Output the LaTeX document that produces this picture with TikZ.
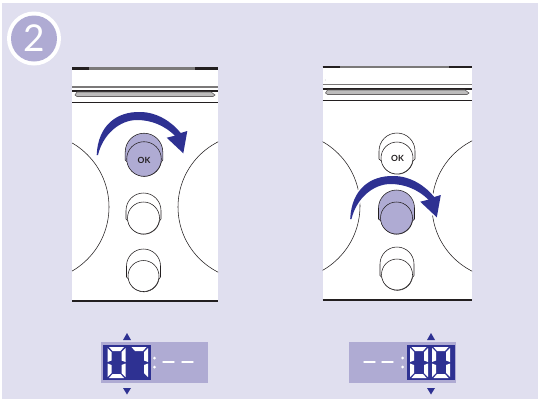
\documentclass[tikz,border=0pt]{standalone}
\usepackage{fontspec}
\setmainfont{Lato}
\definecolor{bg}{HTML}{E0DFEF}
\definecolor{lilac}{HTML}{AFABD3}
\definecolor{navy}{HTML}{2E3192}
\definecolor{ink}{HTML}{231F20}
\tikzset{
  thin line/.style={draw=ink,line width=0.55pt},
  bar line/.style={draw=ink,line width=1.1pt},
  gray line/.style={draw=ink!60,line width=1.2pt},
  top band/.style={draw=ink!60,line width=2.2pt},
  seg/.style={fill=white,draw=none},
  marker/.style={fill=navy,draw=none},
  turn/.style={fill=navy,draw=none},
  halo/.style={draw=white,fill=white,line width=3pt,line join=round},
}
% y axis points down, so angle 270 is the top of a circle
\newcommand{\knob}[7]{% cx, top (unused), halfw, circ y, r, shoulder y, fill
  \path[thin line,fill=#7] (#1-#3,#6) arc[start angle=180,end angle=360,radius=#3] -- (#1+#3,#4+1) -- (#1+#5,#4+3) arc[start angle=10,end angle=170,radius=#5] -- (#1-#3,#4+1) -- cycle;
  \path[thin line,fill=#7] (#1,#4) circle[radius=#5];
}
\newcommand{\panel}[7]{% left, right, top, line1, line2, line3, bottom
  \fill[white] (#1,#3) rectangle (#2,#7);
  \draw[top band] (#1,#3) -- (#2,#3);
  \draw[line width=2.2pt,ink] (#1,#3) -- (#1+17,#3);
  \draw[line width=2.2pt,ink] (#2-23,#3) -- (#2,#3);
  \draw[gray line] (#1,#4) -- (#2,#4);
  \draw[bar line] (#1,#5) -- (#2,#5);
  \draw[bar line] (#1,#6) -- (#2,#6);
  \draw[draw=ink!70,line width=0.6pt,fill=ink!30] (#1+3,#5+4) -- (#1+5,#5+1) -- (#2-7,#5+1) -- (#2-3,#5+4) -- (#2-5,#5+5.5) -- (#1+5,#5+5.5) -- cycle;
  \draw[line width=1.6pt,ink] (#1,#7) -- (#2,#7);
}
\newcommand{\turnshape}[1]{%
  (96.7,155) .. controls (98,125) and (117,111.5) .. (140,112)
  .. controls (157,112) and (172,122) .. (180.7,133)
  -- (187.3,131) -- (183.3,153.3) -- (166.7,137.7) -- (175,135.7)
  .. controls (165,126) and (152,120) .. (137,120)
  .. controls (120,120) and (103,134) .. (98,155) -- cycle
}
% seven-segment digit at (x,y), 18 wide, 31 high
\newcommand{\sega}[2]{\fill[seg] (#1+1.5,#2) -- (#1+16.5,#2) -- (#1+13,#2+4) -- (#1+5,#2+4) -- cycle;}
\newcommand{\segd}[2]{\fill[seg] (#1+1.5,#2+31) -- (#1+16.5,#2+31) -- (#1+13,#2+27) -- (#1+5,#2+27) -- cycle;}
\newcommand{\segf}[2]{\fill[seg] (#1+0,#2+1) -- (#1+4,#2+5) -- (#1+4,#2+13.5) -- (#1+0,#2+15) -- cycle;}
\newcommand{\sege}[2]{\fill[seg] (#1+0,#2+16.5) -- (#1+4,#2+18) -- (#1+4,#2+26) -- (#1+0,#2+30) -- cycle;}
\newcommand{\segb}[2]{\fill[seg] (#1+18,#2+1) -- (#1+14,#2+5) -- (#1+14,#2+13.5) -- (#1+18,#2+15) -- cycle;}
\newcommand{\segc}[2]{\fill[seg] (#1+18,#2+16.5) -- (#1+14,#2+18) -- (#1+14,#2+26) -- (#1+18,#2+30) -- cycle;}
\newcommand{\dzero}[2]{\sega{#1}{#2}\segd{#1}{#2}\segf{#1}{#2}\sege{#1}{#2}\segb{#1}{#2}\segc{#1}{#2}}
\newcommand{\dseven}[2]{\sega{#1}{#2}\segb{#1}{#2}\segc{#1}{#2}}
\newcommand{\dashseg}[2]{\draw[white,line width=2.8pt,line cap=round] (#1+1.4,#2) -- (#1+11.6,#2);}
\begin{document}
\begin{tikzpicture}[x=1pt,y=-1pt]
\useasboundingbox (0,0) rectangle (540,399);
\fill[white] (0,0) rectangle (540,399);
\fill[bg] (2,3) rectangle (538,399);
% badge
\fill[white] (34,38.5) circle[radius=27];
\fill[lilac] (34,38.5) circle[radius=23];
\node (badge) at (34,38.5) {\fontsize{37}{37}\selectfont\color{white}2};
% left panel
\panel{72}{218}{68.5}{87}{91}{102.5}{301}
\begin{scope}
\clip (72,110) rectangle (218,300);
\draw[thin line] (35,207) circle[radius=74];
\draw[thin line] (251,207) circle[radius=73];
\end{scope}
\knob{144}{133}{18.8}{159}{17.3}{152}{lilac}
\knob{143.5}{193}{17.5}{218}{16}{210.5}{white}
\knob{143.5}{249}{17}{276}{15.5}{266}{white}
\node (oka) at (144,160.5) {\fontsize{8.5}{8.5}\selectfont\bfseries\color{ink}OK};
\fill[turn] \turnshape{};
% right panel
\panel{322.5}{472}{67}{84.5}{89}{100.5}{300}
\fill[ink!50] (325.3,80) circle[radius=0.4];
\begin{scope}
\clip (322.5,110) rectangle (472,299);
\draw[thin line] (286,206) circle[radius=74];
\draw[thin line] (505,206) circle[radius=73];
\end{scope}
\knob{397}{133}{18}{158}{16}{151}{white}
\knob{396.5}{190}{18}{218}{16}{208}{lilac}
\knob{397}{247}{17}{274.5}{15.5}{264}{white}
\node (okb) at (397.5,158.5) {\fontsize{8.5}{8.5}\selectfont\bfseries\color{ink}OK};
\begin{scope}[shift={(253.5,64)}]
\path[halo] \turnshape{};
\fill[turn] \turnshape{};
\end{scope}
% left display
\fill[lilac] (101,342) rectangle (208,383);
\fill[navy] (103,345) rectangle (151,380);
\dzero{107.5}{347}
\dseven{130}{347}
\fill[white] (154.5,358) circle[radius=1.5] (154.5,367) circle[radius=1.5];
\dashseg{162}{362}
\dashseg{181}{362}
\fill[marker] (127,333) -- (131,340) -- (123,340) -- cycle;
\fill[marker] (127,394.5) -- (131,388) -- (123,388) -- cycle;
% right display
\fill[lilac] (349,342) rectangle (456,383);
\fill[navy] (407,345) rectangle (455,380);
\dzero{410}{347}
\dzero{432}{347}
\fill[white] (402.7,358) circle[radius=1.5] (402.7,367) circle[radius=1.5];
\dashseg{363}{362}
\dashseg{381}{362}
\fill[marker] (431,333) -- (435,340) -- (427,340) -- cycle;
\fill[marker] (431,394.5) -- (435,388) -- (427,388) -- cycle;
\end{tikzpicture}
\end{document}
